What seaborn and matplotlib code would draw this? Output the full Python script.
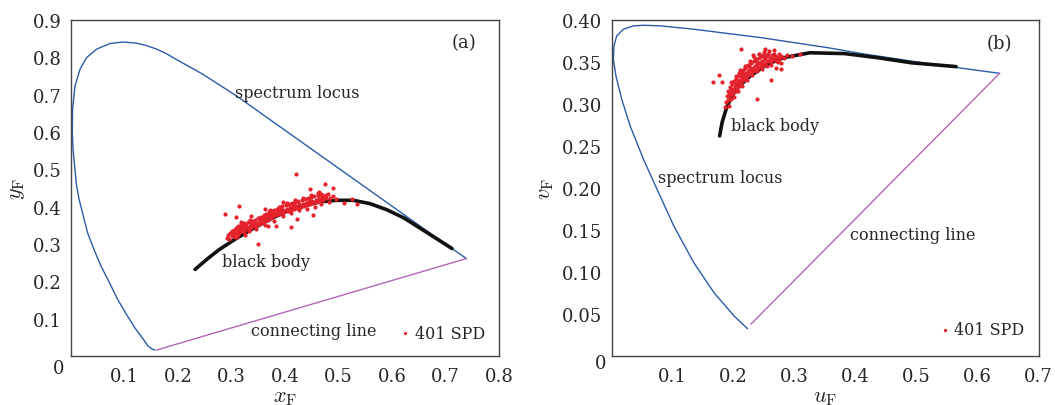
import matplotlib
matplotlib.use("Agg")
import matplotlib.pyplot as plt
import seaborn as sns

# ---- panel (a): x_F / y_F chromaticity ----
locus_a_x = [0.157, 0.151, 0.144, 0.135, 0.119, 0.103, 0.087, 0.072, 0.056, 0.043, 0.031,
             0.015, 0.010, 0.0068, 0.004, 0.0024, 0.003, 0.0074, 0.0168, 0.029, 0.048,
             0.073, 0.097, 0.122, 0.140, 0.160, 0.178, 0.196, 0.246, 0.309, 0.371, 0.434,
             0.496, 0.559, 0.622, 0.685, 0.739]
locus_a_y = [0.016, 0.019, 0.027, 0.045, 0.076, 0.113, 0.152, 0.196, 0.241, 0.285, 0.330,
             0.420, 0.460, 0.509, 0.550, 0.598, 0.661, 0.723, 0.768, 0.799, 0.822,
             0.837, 0.841, 0.838, 0.832, 0.822, 0.810, 0.795, 0.755, 0.697, 0.634, 0.570,
             0.507, 0.443, 0.379, 0.315, 0.261]
connect_a_x = [0.739, 0.160]
connect_a_y = [0.261, 0.016]
body_a_x = [0.232, 0.254, 0.276, 0.308, 0.340, 0.371, 0.403, 0.434, 0.465, 0.496, 0.528,
            0.559, 0.590, 0.622, 0.665, 0.712]
body_a_y = [0.232, 0.259, 0.284, 0.314, 0.341, 0.366, 0.387, 0.402, 0.413, 0.417, 0.417,
            0.408, 0.392, 0.370, 0.331, 0.288]
spd_a_x = [0.291, 0.294, 0.296, 0.298, 0.300, 0.302, 0.303, 0.305, 0.306, 0.308, 0.309, 0.311,
           0.312, 0.313, 0.314, 0.316, 0.317, 0.318, 0.319, 0.321, 0.322, 0.323, 0.324, 0.325,
           0.327, 0.328, 0.330, 0.331, 0.333, 0.334, 0.336, 0.337, 0.339, 0.341, 0.343, 0.344,
           0.346, 0.348, 0.350, 0.351, 0.353, 0.355, 0.356, 0.358, 0.360, 0.361, 0.363, 0.365,
           0.366, 0.368, 0.370, 0.371, 0.373, 0.375, 0.376, 0.378, 0.380, 0.381, 0.383, 0.385,
           0.386, 0.388, 0.390, 0.391, 0.393, 0.395, 0.397, 0.399, 0.401, 0.403, 0.405, 0.407,
           0.409, 0.411, 0.413, 0.415, 0.417, 0.419, 0.421, 0.423, 0.425, 0.427, 0.429, 0.431,
           0.433, 0.435, 0.437, 0.439, 0.441, 0.443, 0.445, 0.447, 0.449, 0.451, 0.453, 0.455,
           0.457, 0.459, 0.461, 0.463, 0.465, 0.467, 0.469, 0.471, 0.474, 0.477, 0.480, 0.484,
           0.489, 0.495,
           0.300, 0.310, 0.318, 0.326, 0.335, 0.345, 0.352, 0.362, 0.372, 0.379, 0.388, 0.396,
           0.404, 0.412, 0.418, 0.426, 0.434, 0.442, 0.448, 0.456, 0.462, 0.468, 0.476, 0.482,
           0.320, 0.343, 0.367, 0.392, 0.416, 0.444,
           0.421, 0.475, 0.490, 0.447, 0.314, 0.288, 0.308, 0.349, 0.411, 0.397, 0.362, 0.464,
           0.470, 0.453, 0.510, 0.526, 0.535, 0.423, 0.383, 0.369, 0.336]
spd_a_y = [0.316, 0.323, 0.314, 0.329, 0.321, 0.333, 0.325, 0.338, 0.319, 0.330, 0.343, 0.334,
           0.327, 0.348, 0.340, 0.332, 0.345, 0.353, 0.337, 0.349, 0.342, 0.331, 0.355, 0.346,
           0.339, 0.351, 0.344, 0.358, 0.336, 0.349, 0.354, 0.343, 0.361, 0.352, 0.347, 0.365,
           0.357, 0.350, 0.369, 0.360, 0.354, 0.372, 0.364, 0.358, 0.378, 0.369, 0.361, 0.381,
           0.373, 0.365, 0.386, 0.377, 0.370, 0.389, 0.381, 0.374, 0.392, 0.384, 0.377, 0.395,
           0.387, 0.380, 0.398, 0.390, 0.383, 0.401, 0.392, 0.386, 0.404, 0.395, 0.389, 0.406,
           0.398, 0.392, 0.409, 0.401, 0.394, 0.412, 0.403, 0.397, 0.414, 0.406, 0.399, 0.417,
           0.408, 0.401, 0.420, 0.411, 0.404, 0.423, 0.413, 0.406, 0.426, 0.416, 0.409, 0.429,
           0.419, 0.412, 0.431, 0.422, 0.415, 0.434, 0.424, 0.417, 0.429, 0.422, 0.433, 0.424,
           0.428, 0.421,
           0.335, 0.320, 0.358, 0.325, 0.364, 0.340, 0.370, 0.352, 0.390, 0.362, 0.398, 0.375,
           0.410, 0.382, 0.418, 0.390, 0.424, 0.395, 0.432, 0.400, 0.436, 0.406, 0.432, 0.412,
           0.336, 0.356, 0.376, 0.393, 0.405, 0.418,
           0.487, 0.462, 0.449, 0.447, 0.402, 0.381, 0.373, 0.301, 0.346, 0.413, 0.395, 0.440,
           0.432, 0.378, 0.411, 0.420, 0.408, 0.366, 0.348, 0.347, 0.375]

# ---- panel (b): u_F / v_F chromaticity ----
locus_b_x = [0.2227, 0.2007, 0.1677, 0.1347, 0.1017, 0.0797, 0.0522, 0.0302, 0.0165, 0.0071,
             0.0027, 0.0038, 0.0082, 0.0192, 0.0357, 0.0522, 0.0797, 0.1347, 0.1897, 0.2447,
             0.2997, 0.3547, 0.4097, 0.4646, 0.5196, 0.5746, 0.636]
locus_b_y = [0.0325, 0.0476, 0.0754, 0.111, 0.155, 0.190, 0.234, 0.274, 0.3056, 0.333,
             0.353, 0.369, 0.381, 0.389, 0.393, 0.3937, 0.393, 0.389, 0.384, 0.379,
             0.373, 0.367, 0.360, 0.354, 0.348, 0.3425, 0.3365]
connect_b_x = [0.636, 0.228]
connect_b_y = [0.3365, 0.0377]
body_b_x = [0.177, 0.181, 0.1885, 0.196, 0.205, 0.2267, 0.254, 0.281, 0.325, 0.382,
            0.437, 0.492, 0.5646]
body_b_y = [0.262, 0.278, 0.296, 0.308, 0.3185, 0.333, 0.347, 0.355, 0.361, 0.360,
            0.355, 0.349, 0.3445]
spd_b_x = [0.187, 0.189, 0.190, 0.191, 0.192, 0.193, 0.194, 0.195, 0.196, 0.197, 0.198, 0.199,
           0.200, 0.201, 0.202, 0.203, 0.204, 0.205, 0.206, 0.207, 0.208, 0.209, 0.210, 0.211,
           0.212, 0.213, 0.214, 0.215, 0.216, 0.217, 0.218, 0.219, 0.220, 0.221, 0.222, 0.223,
           0.224, 0.225, 0.227, 0.228, 0.229, 0.231, 0.232, 0.233, 0.235, 0.236, 0.237, 0.239,
           0.240, 0.241, 0.243, 0.244, 0.245, 0.247, 0.248, 0.249, 0.251, 0.252, 0.254, 0.256,
           0.257, 0.259, 0.261, 0.263, 0.265, 0.267, 0.269, 0.271, 0.274, 0.277, 0.282, 0.288,
           0.296,
           0.192, 0.196, 0.200, 0.203, 0.207, 0.210, 0.214, 0.218, 0.222, 0.226, 0.230, 0.234,
           0.238, 0.242, 0.246, 0.250, 0.255, 0.258, 0.262, 0.266, 0.270, 0.274, 0.278, 0.204,
           0.215, 0.226, 0.238, 0.250, 0.262, 0.272,
           0.2125, 0.176, 0.1656, 0.181, 0.2387, 0.2617, 0.251, 0.266, 0.241, 0.2775, 0.309,
           0.224, 0.209, 0.185, 0.232]
spd_b_y = [0.302, 0.310, 0.305, 0.316, 0.309, 0.313, 0.320, 0.306, 0.317, 0.312, 0.324, 0.318,
           0.314, 0.327, 0.321, 0.316, 0.330, 0.324, 0.319, 0.333, 0.327, 0.322, 0.335, 0.329,
           0.325, 0.338, 0.332, 0.328, 0.340, 0.334, 0.330, 0.343, 0.337, 0.332, 0.345, 0.339,
           0.335, 0.347, 0.341, 0.337, 0.349, 0.343, 0.339, 0.351, 0.345, 0.341, 0.353, 0.347,
           0.343, 0.355, 0.349, 0.345, 0.357, 0.351, 0.347, 0.359, 0.353, 0.349, 0.357, 0.351,
           0.360, 0.355, 0.350, 0.358, 0.353, 0.357, 0.351, 0.356, 0.353, 0.357, 0.355, 0.358,
           0.357,
           0.298, 0.326, 0.308, 0.333, 0.316, 0.340, 0.322, 0.345, 0.328, 0.351, 0.334, 0.356,
           0.339, 0.360, 0.342, 0.362, 0.345, 0.363, 0.347, 0.359, 0.343, 0.360, 0.349, 0.325,
           0.336, 0.343, 0.350, 0.356, 0.355, 0.350,
           0.365, 0.335, 0.3267, 0.3267, 0.3056, 0.328, 0.365, 0.364, 0.359, 0.342, 0.359,
           0.346, 0.337, 0.297, 0.358]

BLUE = "#2b5ca8"
MAGENTA = "#b565b5"
RED = "#e3222b"

sns.set_style("white")
plt.rcParams["font.family"] = ["DejaVu Serif"]
plt.rcParams["mathtext.fontset"] = "cm"


def draw_panel(ax, lx, ly, cx, cy, bx, by, sx, sy):
    sns.lineplot(x=lx, y=ly, sort=False, estimator=None, color=BLUE, linewidth=1.0, ax=ax)
    sns.lineplot(x=cx, y=cy, sort=False, estimator=None, color=MAGENTA, linewidth=1.0, ax=ax)
    sns.lineplot(x=bx, y=by, sort=False, estimator=None, color="#111111", linewidth=2.6,
                 ax=ax, zorder=3)
    sns.scatterplot(x=sx, y=sy, color=RED, s=9, marker="o", linewidth=0, ax=ax,
                    label="401 SPD", zorder=4)
    for sp in ax.spines.values():
        sp.set_visible(True)
        sp.set_color("#444444")
        sp.set_linewidth(1.0)
    ax.tick_params(direction="in", length=4, width=1, color="#444444", labelsize=13,
                   top=False, right=False)
    ax.tick_params(axis="x", pad=8)
    ax.tick_params(axis="y", pad=7)


fig = plt.figure(figsize=(10.55, 4.06), dpi=100)
ax1 = fig.add_axes([0.0673, 0.1207, 0.4057, 0.8276])
ax2 = fig.add_axes([0.5798, 0.1207, 0.4047, 0.8276])

draw_panel(ax1, locus_a_x, locus_a_y, connect_a_x, connect_a_y,
           body_a_x, body_a_y, spd_a_x, spd_a_y)
ax1.set_xlim(0, 0.8)
ax1.set_ylim(0, 0.9)
ax1.set_xticks([0.1, 0.2, 0.3, 0.4, 0.5, 0.6, 0.7, 0.8])
ax1.set_xticklabels(["0.1", "0.2", "0.3", "0.4", "0.5", "0.6", "0.7", "0.8"])
ax1.set_yticks([0.1, 0.2, 0.3, 0.4, 0.5, 0.6, 0.7, 0.8, 0.9])
ax1.set_yticklabels(["0.1", "0.2", "0.3", "0.4", "0.5", "0.6", "0.7", "0.8", "0.9"])
ax1.text(-0.016, -0.035, "0", transform=ax1.transAxes, ha="right", va="center", fontsize=13)
ax1.set_xlabel(r"$x_\mathrm{F}$", fontsize=16, labelpad=0)
ax1.set_ylabel(r"$y_\mathrm{F}$", fontsize=16, labelpad=4)
ax1.text(0.307, 0.707, "spectrum locus", fontsize=11.5, va="center")
ax1.text(0.283, 0.254, "black body", fontsize=11.5, va="center")
ax1.text(0.336, 0.067, "connecting line", fontsize=11.5, va="center")
ax1.text(0.734, 0.84, "(a)", fontsize=13, ha="center", va="center")
ax1.legend(loc="lower right", frameon=False, fontsize=11.5, handletextpad=0.1,
           handlelength=1.0, markerscale=0.8, bbox_to_anchor=(1.0, 0.0))

draw_panel(ax2, locus_b_x, locus_b_y, connect_b_x, connect_b_y,
           body_b_x, body_b_y, spd_b_x, spd_b_y)
ax2.set_xlim(0, 0.7)
ax2.set_ylim(0, 0.40)
ax2.set_xticks([0.1, 0.2, 0.3, 0.4, 0.5, 0.6, 0.7])
ax2.set_xticklabels(["0.1", "0.2", "0.3", "0.4", "0.5", "0.6", "0.7"])
ax2.set_yticks([0.05, 0.10, 0.15, 0.20, 0.25, 0.30, 0.35, 0.40])
ax2.set_yticklabels(["0.05", "0.10", "0.15", "0.20", "0.25", "0.30", "0.35", "0.40"])
ax2.text(-0.012, -0.02, "0", transform=ax2.transAxes, ha="right", va="center", fontsize=13)
ax2.set_xlabel(r"$u_\mathrm{F}$", fontsize=16, labelpad=0)
ax2.set_ylabel(r"$v_\mathrm{F}$", fontsize=16, labelpad=4)
ax2.text(0.0759, 0.212, "spectrum locus", fontsize=11.5, va="center")
ax2.text(0.195, 0.274, "black body", fontsize=11.5, va="center")
ax2.text(0.3904, 0.1448, "connecting line", fontsize=11.5, va="center")
ax2.text(0.635, 0.373, "(b)", fontsize=13, ha="center", va="center")
ax2.legend(loc="lower right", frameon=False, fontsize=11.5, handletextpad=0.1,
           handlelength=1.0, markerscale=0.8, bbox_to_anchor=(1.0, 0.01))

fig.savefig("out.png", dpi=100)
